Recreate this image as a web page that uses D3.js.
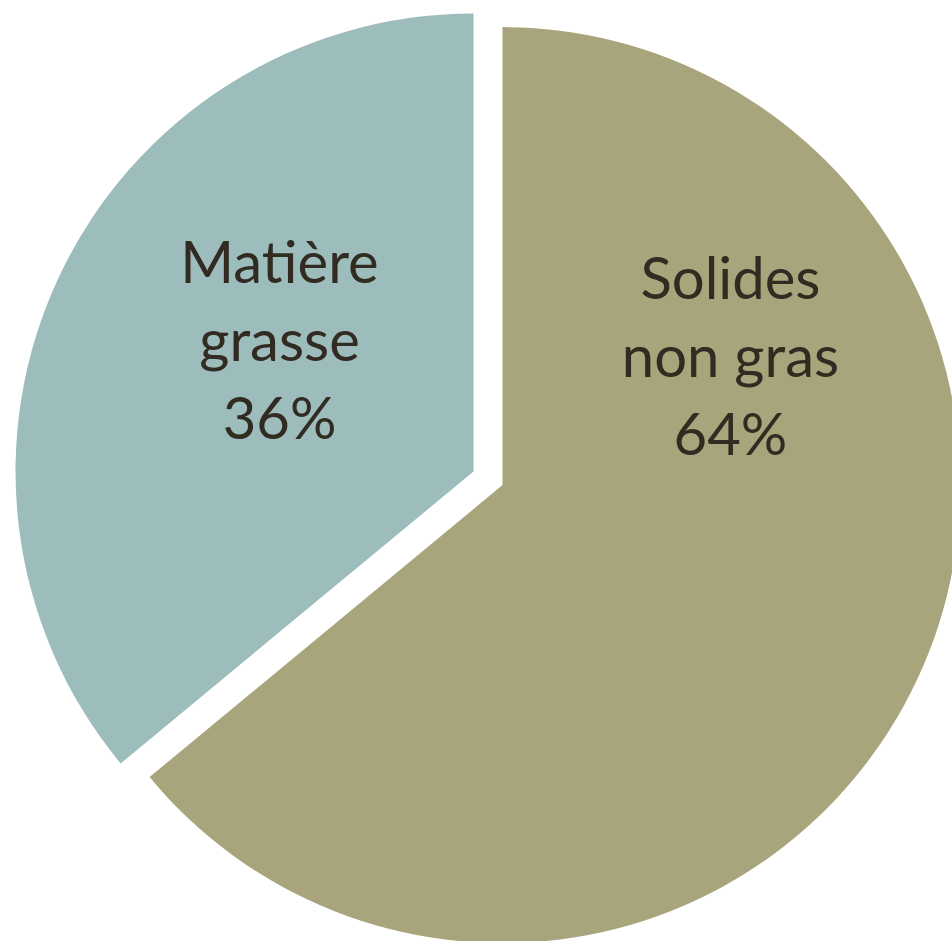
<!DOCTYPE html>
<html>
<head>
<meta charset="utf-8">
<script src="https://cdn.jsdelivr.net/npm/d3@7"></script>
<style>
html,body{margin:0;padding:0;background:#fff;overflow:hidden;}
svg{display:block;}
</style>
</head>
<body>
<svg id="chart" width="952" height="941"></svg>
<script>
const categories = ["Solides non gras", "Matière grasse"];
const labelLines = [["Solides", "non gras", "64%"], ["Matière", "grasse", "36%"]];
const values = [64, 36];
const colors = ["#A8A47B", "#9DBCBC"];

const W = 952, H = 941;
const cx = 488, cy = 478.3, R = 458, explode = 16;
// label centre offsets relative to each slice's own centre (x, y of middle line)
const labelOffsets = [[228, -128], [-194, -131]];

const svg = d3.select("#chart");
const pie = d3.pie().sort(null).value(d => d)(values);
const arc = d3.arc().innerRadius(0).outerRadius(R);

const g = svg.selectAll("g.slice").data(pie).enter().append("g")
  .attr("class", "slice")
  .attr("transform", d => {
    const a = (d.startAngle + d.endAngle) / 2;
    const x = cx + explode * Math.sin(a), y = cy - explode * Math.cos(a);
    return `translate(${x},${y})`;
  });

g.append("path").attr("d", arc).attr("fill", (d, i) => colors[i]);

const lineH = 78;
g.each(function(d, i) {
  const t = d3.select(this).append("text")
    .attr("text-anchor", "middle")
    .attr("font-family", "Lato, 'Open Sans', sans-serif")
    .attr("font-size", 58)
    .attr("fill", "#312B21");
  labelLines[i].forEach((ln, k) => {
    t.append("tspan")
      .attr("x", labelOffsets[i][0])
      .attr("y", labelOffsets[i][1] + (k - 1) * lineH)
      .attr("dy", "0.35em")
      .text(ln);
  });
});
</script>
</body>
</html>
